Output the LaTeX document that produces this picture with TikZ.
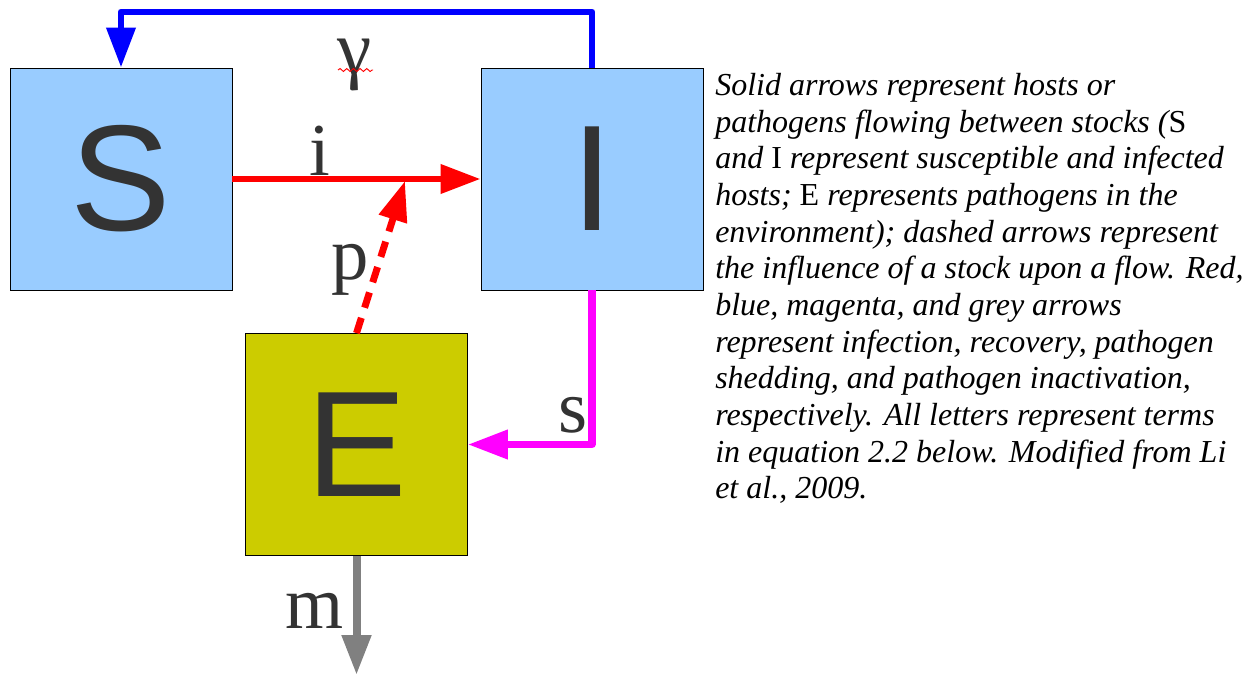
\documentclass[tikz,border=0pt]{standalone}
\usepackage{fontspec}
\setmainfont{Liberation Serif}
\newfontfamily\stockfont{Liberation Sans}
\usetikzlibrary{arrows.meta,decorations.pathmorphing}
\definecolor{hostfill}{HTML}{99CCFF}
\definecolor{envfill}{HTML}{CCCC00}
\definecolor{lettergrey}{HTML}{333333}
\definecolor{flowred}{HTML}{FF0000}
\definecolor{flowblue}{HTML}{0000FF}
\definecolor{flowmagenta}{HTML}{FF00FF}
\definecolor{flowgrey}{HTML}{808080}
\begin{document}
\begin{tikzpicture}[x=0.75pt,y=-0.75pt,
  stock/.style={draw=black, line width=0.6pt, minimum width=166.5pt, minimum height=166.5pt,
    inner sep=0pt, text=lettergrey, font=\stockfont\fontsize{113}{113}\selectfont},
  flow/.style={line width=#1, line join=round,
    -{Triangle[length=30pt,width=21pt]}},
  rate/.style={anchor=base, inner sep=0pt, text=lettergrey, font=\fontsize{56}{56}\selectfont}]
\useasboundingbox (0,0) rectangle (1252,675);

% stocks
\node[stock, fill=hostfill] (S) at (121,179) {S};
\node[stock, fill=hostfill] (I) at (592,179) {I};
\node[stock, fill=envfill] (E) at (356.5,444.5) {E};

% helper points
\coordinate (top) at (356,12);
\coordinate (pTip) at (405,181);
\coordinate (sink) at (356.5,675);

% flows
\draw[flow=5.2pt, flowred] (S.east) -- (I.west);
\draw[flow=5.2pt, flowblue] (I.north) |- (top) -| (S.north);
\draw[flow=5.4pt, flowmagenta] (I.south) |- (E.east);
\draw[flow=6pt, flowgrey] (E.south) -- (sink);
\draw[flow=5.2pt, flowred, dash pattern=on 12pt off 8pt] (E.north) -- (pTip);

% rate labels
\node[rate] (li) at (320,175) {i};
\node[rate, font=\fontsize{58}{58}\selectfont] (lg) at (355,74) {γ};
\node[rate] (lp) at (350,279) {p};
\node[rate] (ls) at (573,432) {s};
\node[rate] (lm) at (315,628) {m};
\draw[flowred, line width=0.7pt, decorate,
  decoration={snake, amplitude=1.1pt, segment length=5pt}] (338,70) -- (373,70);

% caption
\node[anchor=north west, inner sep=0pt, align=left,
  font=\fontsize{24}{27.5}\selectfont\itshape] (cap) at (715,73) {%
Solid arrows represent hosts or\\
pathogens flowing between stocks ({\upshape S}\\
and {\upshape I} represent susceptible and infected\\
hosts; {\upshape E} represents pathogens in the\\
environment); dashed arrows represent\\
the influence of a stock upon a flow. Red,\\
blue, magenta, and grey arrows\\
represent infection, recovery, pathogen\\
shedding, and pathogen inactivation,\\
respectively. All letters represent terms\\
in equation 2.2 below. Modified from Li\\
et al., 2009.};
\end{tikzpicture}
\end{document}
